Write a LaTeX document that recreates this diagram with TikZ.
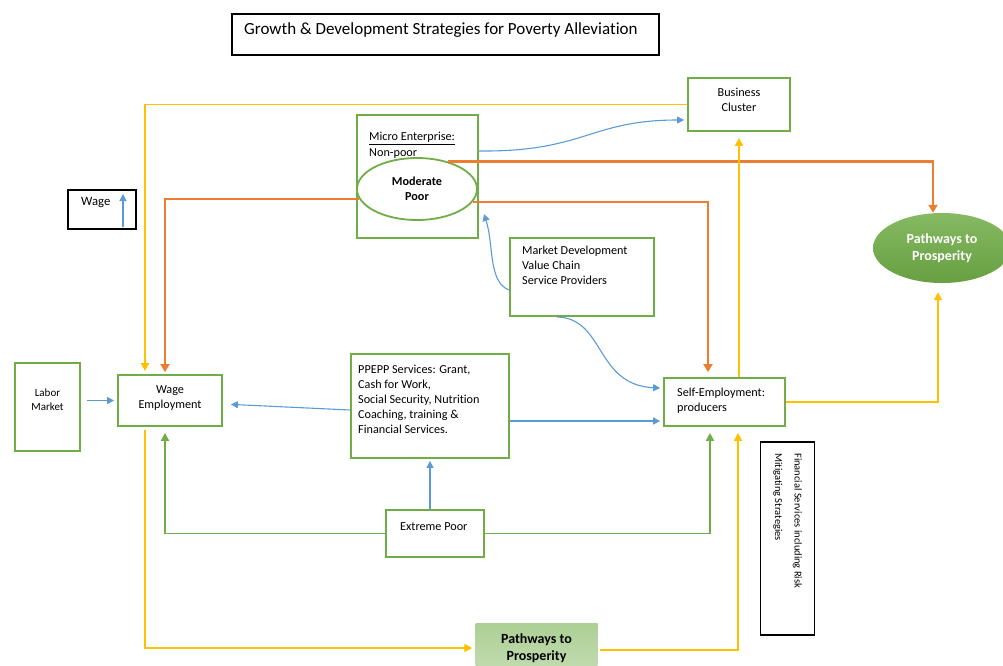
\documentclass[tikz,border=0pt]{standalone}
\usepackage{fontspec}
\setmainfont{Carlito}[Ligatures=NoCommon]
\usetikzlibrary{arrows.meta,shapes.geometric,calc}
\definecolor{gcol}{HTML}{70AD47}
\definecolor{ocol}{HTML}{ED7D31}
\definecolor{ycol}{HTML}{FFC000}
\definecolor{bcol}{HTML}{5B9BD5}
\tikzset{
  gbox/.style={draw=gcol,line width=1.8pt,rectangle,inner sep=0pt},
  kbox/.style={draw=black,line width=1.8pt,rectangle,inner sep=0pt},
  txt/.style={inner sep=0pt,align=left,font=\fontsize{12.2}{15}\selectfont},
  ctxt/.style={inner sep=0pt,align=center,font=\fontsize{12.2}{15}\selectfont},
  oln/.style={draw=ocol,line width=2.6pt,-{Triangle[length=8pt,width=9pt]}},
  yln/.style={draw=ycol,line width=1.8pt,-{Triangle[length=8pt,width=8pt]}},
  gln/.style={draw=gcol,line width=1.8pt,-{Triangle[length=8pt,width=8pt]}},
  bln/.style={draw=bcol,line width=1.1pt,-{Triangle[length=7pt,width=7pt]}},
}
\begin{document}
\begin{tikzpicture}[x=1pt,y=-1pt]
\useasboundingbox (0,0) rectangle (1003,665);
% title
\node[kbox,minimum width=427,minimum height=41] (title) at (445.5,34.5) {};
\node[inner sep=0pt,anchor=west,font=\fontsize{17}{20}\selectfont] (titletxt) at (244,30) {Growth \& Development Strategies for Poverty Alleviation};
% business cluster
\node[gbox,minimum width=102,minimum height=53] (bc) at (739,104.5) {};
\node[ctxt,anchor=north] (bctxt) at (739,87.5) {Business\\Cluster};
% micro enterprise
\node[gbox,minimum width=121,minimum height=123] (micro) at (417.5,176.5) {};
\node[txt,anchor=north west,font=\fontsize{12.2}{16}\selectfont] (microtxt) at (369,132) {\underline{Micro Enterprise:}\\Non-poor};
\node[ellipse,draw=gcol,line width=1.8pt,fill=white,minimum width=120,minimum height=62,inner sep=0pt,align=center,font=\fontsize{12.2}{15}\selectfont\bfseries] (mod) at (417,189) {Moderate\\Poor};
% wage
\node[kbox,minimum width=68,minimum height=39] (wage) at (102,209.5) {};
\node[txt,anchor=west,font=\fontsize{12.7}{15}\selectfont] (wagetxt) at (81,203) {Wage};
\coordinate (wa1) at (123,227);
\coordinate (wa2) at (123,194);
% pathways right
\node[ellipse,draw=none,top color=gcol!85!white,bottom color=gcol!92!black,minimum width=138,minimum height=70,inner sep=0pt,align=center,text=white,font=\fontsize{14}{17}\selectfont\bfseries] (pr) at (942,248) {Pathways to\\Prosperity};
% market development
\node[gbox,minimum width=144,minimum height=78] (md) at (582,277) {};
\node[txt,anchor=north west] (mdtxt) at (522,246) {Market Development\\Value Chain\\Service Providers};
% labor market
\node[gbox,minimum width=65,minimum height=88] (lm) at (47.5,407) {};
\node[ctxt,anchor=north,font=\fontsize{11}{14}\selectfont] (lmtxt) at (47.5,389) {Labor\\Market};
% wage employment
\node[gbox,minimum width=104,minimum height=51] (we) at (170,400.5) {};
\node[ctxt,anchor=north] (wetxt) at (170,385.5) {Wage\\Employment};
% ppepp
\node[gbox,minimum width=158,minimum height=104] (pp) at (430,406) {};
\node[txt,anchor=north west] (pptxt) at (358,364.5) {PPEPP Services: Grant,\\Cash for Work,\\Social Security, Nutrition\\Coaching, training \&\\Financial Services.};
% self employment
\node[gbox,minimum width=121,minimum height=48] (se) at (724.5,402) {};
\node[txt,anchor=north west] (setxt) at (677,388) {Self-Employment:\\producers};
% extreme poor
\node[gbox,minimum width=98,minimum height=47] (ep) at (435,533.5) {};
\node[txt,anchor=west] (eptxt) at (400,527) {Extreme Poor};
% financial services
\node[kbox,minimum width=54,minimum height=193] (fs) at (787.5,538.5) {};
\node[txt,anchor=north west,rotate=-90,font=\fontsize{10.5}{19.5}\selectfont] (fstxt) at (802,453) {Financial Services including Risk\\Mitigating Strategies};
% pathways bottom
\node[draw=none,top color=gcol!58!white,bottom color=gcol!42!white,minimum width=122,minimum height=50,inner sep=0pt,align=center,font=\fontsize{14}{16.5}\selectfont\bfseries] (pb) at (536.5,648) {Pathways to\\Prosperity};

% orange connectors
\draw[oln,shorten >=2pt] (mod.190) -| ([xshift=-5pt]we.north);
\draw[oln,shorten >=5pt] (mod.-13) -| ([xshift=-16.5pt]se.north);
\draw[oln] (mod.41) -| ([xshift=-9pt]pr.north);
% yellow connectors
\draw[yln,shorten >=3pt] (bc.west) -| ([xshift=-25pt]we.north);
\draw[yln] (se.north -| bc.south) -- ([yshift=-6pt]bc.south);
\draw[yln] (se.east) -| ([xshift=-4pt,yshift=-9pt]pr.south);
\draw[yln,shorten >=3pt] ([xshift=-25pt,yshift=-3pt]we.south) |- (pb.west);
\draw[yln] ([xshift=2pt,yshift=-2pt]pb.east) -| ([xshift=13.5pt,yshift=-6pt]se.south);
% green connectors
\draw[gln] (ep.west) -| ([xshift=-5pt,yshift=-6pt]we.south);
\draw[gln] (ep.east) -| ([xshift=-14.5pt,yshift=-6pt]se.south);
% blue connectors
\draw[bln] (wa1) -- (wa2);
\draw[bln] ([xshift=6pt]lm.east |- we.west) -- ([xshift=-3pt]we.west);
\draw[bln,shorten >=8pt] ([yshift=-4pt]pp.west) -- ([yshift=-3.5pt]we.east);
\draw[bln,shorten >=3pt] ([yshift=-15pt]pp.east) -- ([yshift=-15pt]pp.east -| se.west);
\draw[bln,shorten >=2pt] (ep.north -| pp.south) -- (pp.south);
\draw[bln] (micro.east |- 0,151) .. controls (585,152) and (590,120) .. ([xshift=-3pt]bc.west |- 0,120);
\draw[bln] (md.west |- 0,290) .. controls (488,282) and (494,245) .. (484,214);
\draw[bln] (557,317) .. controls (605,318) and (595,385) .. ([xshift=-3pt]se.west |- 0,388);
\end{tikzpicture}
\end{document}
